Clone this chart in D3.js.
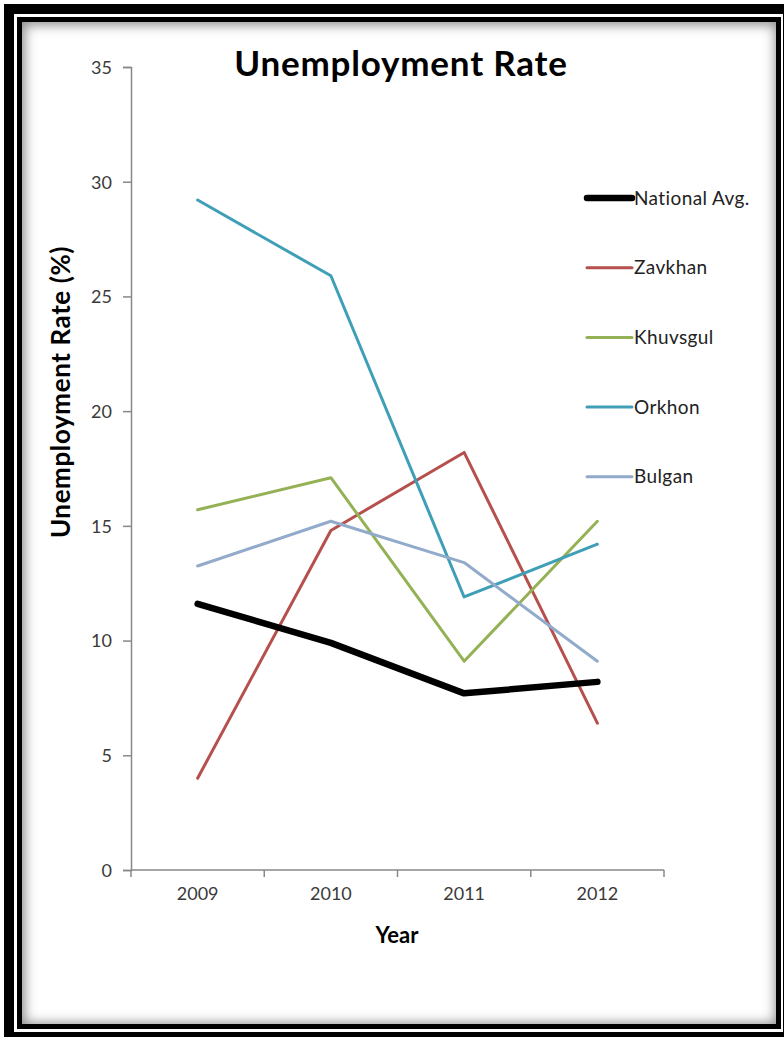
<!DOCTYPE html>
<html>
<head>
<meta charset="utf-8">
<script src="https://cdn.jsdelivr.net/npm/d3@7"></script>
<style>
  html, body { margin: 0; padding: 0; background: #fff; overflow: hidden; }
  body { width: 784px; height: 1037px; position: relative; }
  #outer { position: absolute; left: 4px; top: 4px; width: 789px; height: 1038px;
           border: 10px solid #000; box-sizing: border-box; }
  #inner { position: absolute; left: 17px; top: 17px; width: 764px; height: 1012px;
           border: 5px solid #000; box-sizing: border-box; background: #fff;
           box-shadow: inset 1px 1px 12px 2px rgba(0,0,0,0.45); }
  svg { position: absolute; left: 0; top: 0; }
</style>
</head>
<body>
<div id="outer"></div>
<div id="inner"></div>
<svg id="chart" width="784" height="1037"></svg>
<script>
// Unemployment rate (%) by year
const years = ["2009", "2010", "2011", "2012"];
const nationalAvg = [11.6, 9.9, 7.7, 8.2];
const zavkhan     = [4.0, 14.8, 18.2, 6.4];
const khuvsgul    = [15.7, 17.1, 9.1, 15.2];
const orkhon      = [29.2, 25.9, 11.9, 14.2];
const bulgan      = [13.25, 15.2, 13.4, 9.1];
const seriesNames = ["National Avg.", "Zavkhan", "Khuvsgul", "Orkhon", "Bulgan"];
const yTicks = [0, 5, 10, 15, 20, 25, 30, 35];

const seriesValues = [nationalAvg, zavkhan, khuvsgul, orkhon, bulgan];
const colors = ["#000000", "#B5504D", "#94B255", "#3E9FB6", "#93ABCB"];
const widths = [6.5, 3, 3, 3, 3];

const font = "Lato, 'Open Sans', sans-serif";
const svg = d3.select("#chart");

const plotLeft = 131, plotRight = 664, plotTop = 67, plotBottom = 870;
const x = d3.scaleBand().domain(years).range([plotLeft, plotRight]);
const y = d3.scaleLinear().domain([0, 35]).range([plotBottom, plotTop]);

// Axes
const yAxis = d3.axisLeft(y).tickValues(yTicks).tickSize(8).tickPadding(11);
const gy = svg.append("g").attr("transform", `translate(${plotLeft},0)`).call(yAxis);
const xAxis = d3.axisBottom(x).tickSize(0).tickPadding(17);
const gx = svg.append("g").attr("transform", `translate(0,${plotBottom})`).call(xAxis);

[gy, gx].forEach(g => {
  g.select(".domain").attr("stroke", "#888").attr("stroke-width", 1.5);
  g.selectAll(".tick line").attr("stroke", "#888").attr("stroke-width", 1.5);
  g.selectAll(".tick text").attr("fill", "#3a3a3a").attr("font-size", 18).attr("font-family", font);
});
gy.selectAll(".tick text").attr("dy", "0.35em");
gx.select(".domain").attr("d", `M${plotLeft},0H${plotRight}`);

// Category boundary ticks on the x axis
const bounds = years.map(d => x(d)).concat([x(years[years.length - 1]) + x.bandwidth()]);
gx.selectAll(".bound").data(bounds).enter().append("line")
  .attr("class", "bound")
  .attr("x1", d => d).attr("x2", d => d)
  .attr("y1", 0).attr("y2", 7)
  .attr("stroke", "#888").attr("stroke-width", 1.5);

// Lines
const line = d3.line()
  .x((d, i) => x(years[i]) + x.bandwidth() / 2)
  .y(d => y(d));

const order = [1, 2, 3, 4, 0];
svg.append("g").selectAll("path").data(order).enter().append("path")
  .attr("d", i => line(seriesValues[i]))
  .attr("fill", "none")
  .attr("stroke", i => colors[i])
  .attr("stroke-width", i => widths[i])
  .attr("stroke-linejoin", "round")
  .attr("stroke-linecap", "round");

// Legend
const legend = svg.append("g").attr("transform", "translate(587,198)");
const rows = legend.selectAll("g").data(seriesNames).enter().append("g")
  .attr("transform", (d, i) => `translate(0,${i * 69.7})`);
rows.append("line")
  .attr("x1", 0).attr("x2", 45).attr("y1", 0).attr("y2", 0)
  .attr("stroke", (d, i) => colors[i])
  .attr("stroke-width", (d, i) => widths[i])
  .attr("stroke-linecap", "round");
rows.append("text")
  .attr("x", 47).attr("y", 0).attr("dy", "0.35em")
  .attr("font-family", font).attr("font-size", 19).attr("letter-spacing", 0.4)
  .attr("fill", "#222")
  .text(d => d);

// Titles
svg.append("text")
  .attr("x", 401).attr("y", 76)
  .attr("text-anchor", "middle")
  .attr("font-family", font).attr("font-weight", "bold").attr("font-size", 35)
  .attr("letter-spacing", 0.8)
  .attr("fill", "#000")
  .text("Unemployment Rate");

svg.append("text")
  .attr("x", 397).attr("y", 943)
  .attr("text-anchor", "middle")
  .attr("font-family", font).attr("font-weight", "bold").attr("font-size", 22)
  .attr("fill", "#000")
  .text("Year");

svg.append("text")
  .attr("transform", "translate(70,392) rotate(-90)")
  .attr("text-anchor", "middle")
  .attr("font-family", font).attr("font-weight", "bold").attr("font-size", 26)
  .attr("letter-spacing", 0.6)
  .attr("fill", "#000")
  .text("Unemployment Rate (%)");
</script>
</body>
</html>
